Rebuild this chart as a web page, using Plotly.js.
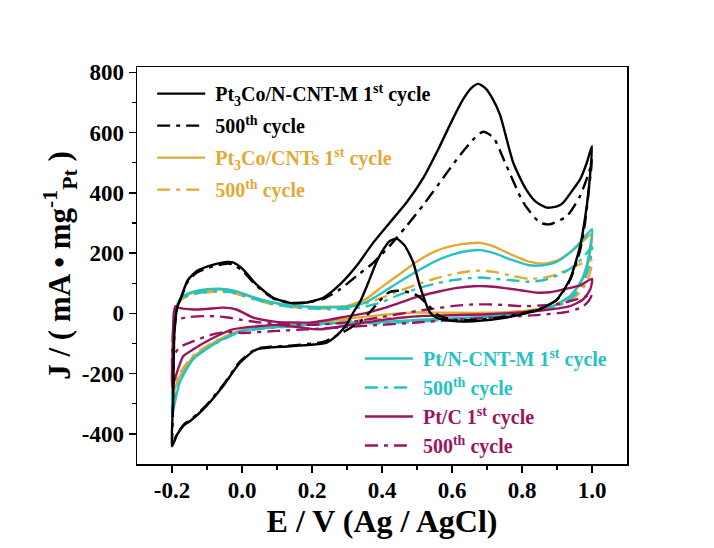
<!DOCTYPE html>
<html>
<head>
<meta charset="utf-8">
<script src="https://cdn.plot.ly/plotly-3.0.1.min.js"></script>
<style>
  html, body { margin: 0; padding: 0; background: #ffffff; }
  #chart { width: 714px; height: 548px; }
</style>
</head>
<body>
<div id="chart"></div>
<script>
// Cyclic voltammograms (anodic sweep -0.2 -> 1.0 V, then cathodic sweep back)

// Pt3Co/N-CNT-M, 1st cycle
const pt3coNcnt1X = [-0.2, -0.197, -0.193, -0.185, -0.173, -0.155, -0.13, -0.1, -0.07, -0.044, -0.026, 0.003, 0.041, 0.089, 0.137, 0.18, 0.232, 0.28, 0.327, 0.375, 0.422, 0.47, 0.518, 0.565, 0.6, 0.632, 0.655, 0.675, 0.695, 0.715, 0.737, 0.775, 0.81, 0.84, 0.871, 0.9, 0.918, 0.945, 0.966, 0.985, 1.0,
  0.993, 0.985, 0.966, 0.937, 0.9, 0.851, 0.756, 0.66, 0.6, 0.556, 0.537, 0.508, 0.489, 0.465, 0.442, 0.42, 0.4, 0.384, 0.36, 0.34, 0.318, 0.3, 0.28, 0.242, 0.137, 0.041, -0.006, -0.054, -0.102, -0.149, -0.163, -0.185, -0.2];
const pt3coNcnt1Y = [-441, -300, -60, 20, 57, 110, 140, 155, 165, 171, 169, 146, 96, 52, 35, 35, 52, 96, 157, 235, 301, 368, 450, 555, 640, 711, 748, 762, 748, 715, 660, 500, 415, 370, 351, 355, 368, 410, 445, 500, 556,
  440, 356, 224, 113, 47, 13, -14, -26, -25, -14, 3, 91, 170, 225, 248, 238, 205, 170, 100, 45, 3, -35, -63, -97, -109, -120, -164, -241, -308, -358, -368, -402, -441];

// Pt3Co/N-CNT-M, 500th cycle
const pt3coNcnt500X = [-0.2, -0.197, -0.193, -0.185, -0.173, -0.155, -0.13, -0.1, -0.07, -0.044, -0.026, 0.003, 0.041, 0.089, 0.137, 0.18, 0.232, 0.28, 0.327, 0.375, 0.422, 0.47, 0.518, 0.565, 0.614, 0.661, 0.689, 0.718, 0.756, 0.804, 0.851, 0.88, 0.928, 0.966, 0.994, 1.0,
  0.99, 0.98, 0.966, 0.937, 0.9, 0.85, 0.756, 0.66, 0.6, 0.56, 0.53, 0.5, 0.47, 0.445, 0.42, 0.4, 0.37, 0.34, 0.3, 0.26, 0.232, 0.137, 0.041, -0.006, -0.054, -0.102, -0.149, -0.163, -0.185, -0.2];
const pt3coNcnt500Y = [-441, -300, -60, 20, 55, 105, 135, 150, 160, 165, 163, 140, 92, 50, 35, 36, 48, 80, 124, 168, 224, 290, 360, 434, 512, 578, 603, 584, 489, 368, 301, 296, 323, 390, 478, 510,
  400, 300, 210, 110, 45, 15, -10, -22, -20, -5, 30, 60, 72, 75, 70, 50, 10, -25, -55, -80, -95, -107, -118, -160, -238, -305, -355, -365, -400, -438];

// Pt3Co/CNTs, 1st cycle
const pt3coCnt1X = [-0.2, -0.197, -0.193, -0.185, -0.17, -0.15, -0.1, -0.064, -0.02, 0.03, 0.08, 0.15, 0.25, 0.3, 0.35, 0.4, 0.45, 0.5, 0.55, 0.6, 0.65, 0.68, 0.72, 0.77, 0.82, 0.86, 0.9, 0.94, 0.97, 1.0,
  0.995, 0.985, 0.97, 0.95, 0.937, 0.889, 0.804, 0.7, 0.6, 0.5, 0.4, 0.3, 0.2, 0.1, 0.0, -0.073, -0.14, -0.178, -0.196, -0.2];
const pt3coCnt1Y = [-285, -170, -30, 28, 52, 65, 77, 79, 72, 53, 37, 25, 22, 25, 45, 88, 130, 172, 205, 224, 233, 234, 222, 195, 172, 165, 175, 205, 235, 265,
  205, 150, 105, 72, 55, 25, 8, 2, 2, 3, -5, -18, -32, -42, -55, -92, -145, -210, -265, -285];

// Pt3Co/CNTs, 500th cycle
const pt3coCnt500X = [-0.2, -0.197, -0.193, -0.185, -0.17, -0.15, -0.1, -0.064, -0.02, 0.03, 0.08, 0.15, 0.25, 0.3, 0.35, 0.4, 0.45, 0.5, 0.55, 0.6, 0.65, 0.68, 0.72, 0.77, 0.82, 0.86, 0.9, 0.94, 0.97, 1.0,
  0.99, 0.97, 0.94, 0.89, 0.8, 0.7, 0.6, 0.5, 0.4, 0.3, 0.2, 0.1, 0.0, -0.073, -0.14, -0.178, -0.196, -0.2];
const pt3coCnt500Y = [-275, -160, -30, 24, 48, 60, 70, 72, 66, 48, 32, 20, 16, 20, 32, 52, 75, 96, 115, 130, 140, 142, 138, 125, 115, 118, 130, 150, 165, 175,
  120, 75, 45, 20, 5, -2, -5, -10, -18, -25, -33, -43, -55, -90, -140, -200, -255, -275];

// Pt/N-CNT-M, 1st cycle
const ptNcnt1X = [-0.2, -0.197, -0.193, -0.185, -0.17, -0.15, -0.1, -0.064, -0.02, 0.03, 0.08, 0.15, 0.25, 0.3, 0.35, 0.4, 0.45, 0.5, 0.55, 0.6, 0.65, 0.68, 0.72, 0.77, 0.82, 0.86, 0.9, 0.94, 0.97, 1.0,
  0.995, 0.985, 0.97, 0.95, 0.937, 0.889, 0.804, 0.7, 0.6, 0.5, 0.4, 0.3, 0.2, 0.1, 0.0, -0.073, -0.14, -0.178, -0.196, -0.2];
const ptNcnt1Y = [-340, -200, -30, 30, 55, 68, 80, 82, 75, 55, 38, 25, 20, 22, 35, 68, 105, 140, 172, 195, 208, 210, 200, 178, 160, 160, 172, 205, 240, 280,
  220, 160, 110, 75, 57, 24, 2, -10, -17, -22, -28, -30, -36, -45, -58, -97, -153, -230, -319, -340];

// Pt/N-CNT-M, 500th cycle
const ptNcnt500X = [-0.2, -0.197, -0.193, -0.185, -0.17, -0.15, -0.1, -0.064, -0.02, 0.03, 0.08, 0.15, 0.25, 0.3, 0.35, 0.4, 0.45, 0.5, 0.55, 0.6, 0.65, 0.68, 0.72, 0.77, 0.82, 0.86, 0.9, 0.94, 0.97, 1.0,
  0.99, 0.97, 0.94, 0.89, 0.8, 0.7, 0.6, 0.5, 0.4, 0.3, 0.2, 0.1, 0.0, -0.073, -0.14, -0.178, -0.196, -0.2];
const ptNcnt500Y = [-320, -190, -30, 25, 50, 62, 72, 74, 68, 50, 33, 20, 14, 15, 22, 38, 62, 82, 98, 110, 117, 119, 115, 110, 105, 110, 125, 150, 180, 220,
  150, 90, 50, 20, 0, -12, -20, -28, -33, -33, -38, -47, -60, -98, -150, -225, -300, -320];

// Pt/C, 1st cycle
const ptC1X = [-0.2, -0.198, -0.195, -0.19, -0.18, -0.14, -0.1, -0.054, -0.016, 0.032, 0.098, 0.2, 0.3, 0.35, 0.41, 0.45, 0.5, 0.56, 0.61, 0.66, 0.7, 0.75, 0.8, 0.84, 0.88, 0.92, 0.97, 1.0,
  0.995, 0.975, 0.937, 0.842, 0.7, 0.6, 0.508, 0.413, 0.3, 0.222, 0.1, 0.05, -0.026, -0.09, -0.14, -0.168, -0.183, -0.2];
const ptC1Y = [-245, -120, 0, 24, 18, 13, 15, 19, 13, -14, -28, -30, -10, 0, 19, 35, 55, 72, 84, 90, 90, 84, 76, 69, 70, 80, 95, 115,
  80, 47, 24, 8, -3, -6, -9, -20, -40, -53, -38, -42, -53, -86, -120, -142, -186, -245];

// Pt/C, 500th cycle
const ptC500X = [-0.2, -0.197, -0.193, -0.18, -0.15, -0.1, -0.05, 0.0, 0.05, 0.1, 0.2, 0.3, 0.4, 0.5, 0.55, 0.6, 0.65, 0.7, 0.75, 0.8, 0.85, 0.9, 0.95, 0.98, 1.0,
  0.99, 0.97, 0.93, 0.85, 0.7, 0.6, 0.5, 0.4, 0.3, 0.2, 0.1, 0.0, -0.05, -0.092, -0.149, -0.178, -0.195, -0.2];
const ptC500Y = [-170, -60, -20, -18, -12, -9, -12, -22, -30, -35, -38, -30, -12, 8, 16, 24, 29, 30, 28, 24, 26, 30, 45, 55, 65,
  40, 20, 5, -5, -15, -22, -30, -38, -45, -52, -58, -65, -62, -72, -97, -112, -140, -170];

// Axis ticks
const xTickVals = [-0.2, 0.0, 0.2, 0.4, 0.6, 0.8, 1.0];
const xTickText = ['-0.2', '0.0', '0.2', '0.4', '0.6', '0.8', '1.0'];
const yTickVals = [-400, -200, 0, 200, 400, 600, 800];
const yTickText = ['-400', '-200', '0', '200', '400', '600', '800'];

const BLACK = '#000000';
const GOLD = '#E2A934';
const CYAN = '#25C2C2';
const PLUM = '#9A1560';
const DASHDOT = '13px,6px,4px,6px';
const FONT = 'Liberation Serif, Times New Roman, serif';

function label(color, html) {
  return '<span style="color:' + color + '">\u00a0' + html + '</span>';
}

function curve(x, y, color, dash, name, legendId, rank) {
  return {
    type: 'scatter', mode: 'lines', x: x, y: y,
    line: { color: color, width: 2.4, dash: dash, shape: 'spline', smoothing: 0.6 },
    name: name, legend: legendId, legendrank: rank, legendgroup: 'g' + rank,
    hoverinfo: 'skip'
  };
}

const traces = [
  curve(pt3coCnt1X, pt3coCnt1Y, GOLD, 'solid', label(GOLD, 'Pt<sub>3</sub>Co/CNTs 1<sup>st</sup> cycle'), 'legend', 3),
  curve(pt3coCnt500X, pt3coCnt500Y, GOLD, DASHDOT, label(GOLD, '500<sup>th</sup> cycle'), 'legend', 4),
  curve(ptNcnt1X, ptNcnt1Y, CYAN, 'solid', label(CYAN, 'Pt/N-CNT-M 1<sup>st</sup> cycle'), 'legend2', 5),
  curve(ptNcnt500X, ptNcnt500Y, CYAN, DASHDOT, label(CYAN, '500<sup>th</sup> cycle'), 'legend2', 6),
  curve(ptC1X, ptC1Y, PLUM, 'solid', label(PLUM, 'Pt/C 1<sup>st</sup> cycle'), 'legend2', 7),
  curve(ptC500X, ptC500Y, PLUM, DASHDOT, label(PLUM, '500<sup>th</sup> cycle'), 'legend2', 8),
  curve(pt3coNcnt1X, pt3coNcnt1Y, BLACK, 'solid', label(BLACK, 'Pt<sub>3</sub>Co/N-CNT-M 1<sup>st</sup> cycle'), 'legend', 1),
  curve(pt3coNcnt500X, pt3coNcnt500Y, BLACK, DASHDOT, label(BLACK, '500<sup>th</sup> cycle'), 'legend', 2)
];

const axisCommon = {
  showline: true, mirror: true, linecolor: '#000', linewidth: 1.5,
  ticks: 'outside', ticklen: 7, tickwidth: 1.5, tickcolor: '#000',
  showgrid: false, zeroline: false,
  tickfont: { family: FONT, size: 23, color: '#000', weight: 'bold' },
  minor: { ticks: 'outside', ticklen: 4, tickwidth: 1.2, tickcolor: '#000', showgrid: false }
};

const layout = {
  width: 714, height: 548,
  margin: { l: 137, r: 87, t: 67, b: 84 },
  paper_bgcolor: '#ffffff', plot_bgcolor: '#ffffff',
  showlegend: true,
  font: { family: FONT, color: '#000', weight: 'bold' },
  xaxis: Object.assign({}, axisCommon, {
    range: [-0.3, 1.1], tickvals: xTickVals, ticktext: xTickText,
    ticklabelstandoff: -2,
    minor: Object.assign({}, axisCommon.minor, { tickvals: [-0.1, 0.1, 0.3, 0.5, 0.7, 0.9] }),
    title: { text: 'E / V (Ag / AgCl)', font: { family: FONT, size: 32, color: '#000', weight: 'bold' }, standoff: 0 }
  }),
  yaxis: Object.assign({}, axisCommon, {
    range: [-500, 818], tickvals: yTickVals, ticktext: yTickText,
    minor: Object.assign({}, axisCommon.minor, { tickvals: [-300, -100, 100, 300, 500, 700] }),
    title: { text: 'J / ( mA • mg<sup>-1</sup><sub>Pt</sub> )', font: { family: FONT, size: 31, color: '#000', weight: 'bold' }, standoff: 0 }
  }),
  legend: {
    x: 0.031, y: 0.982, xanchor: 'left', yanchor: 'top',
    bgcolor: 'rgba(0,0,0,0)', borderwidth: 0,
    font: { family: FONT, size: 20, weight: 'bold' },
    traceorder: 'grouped', tracegroupgap: 3, itemwidth: 48
  },
  legend2: {
    x: 0.455, y: 0.315, xanchor: 'left', yanchor: 'top',
    bgcolor: 'rgba(0,0,0,0)', borderwidth: 0,
    font: { family: FONT, size: 20, weight: 'bold' },
    traceorder: 'grouped', tracegroupgap: 0, itemwidth: 48
  }
};

Plotly.newPlot('chart', traces, layout, { displayModeBar: false, staticPlot: true });
</script>
</body>
</html>
